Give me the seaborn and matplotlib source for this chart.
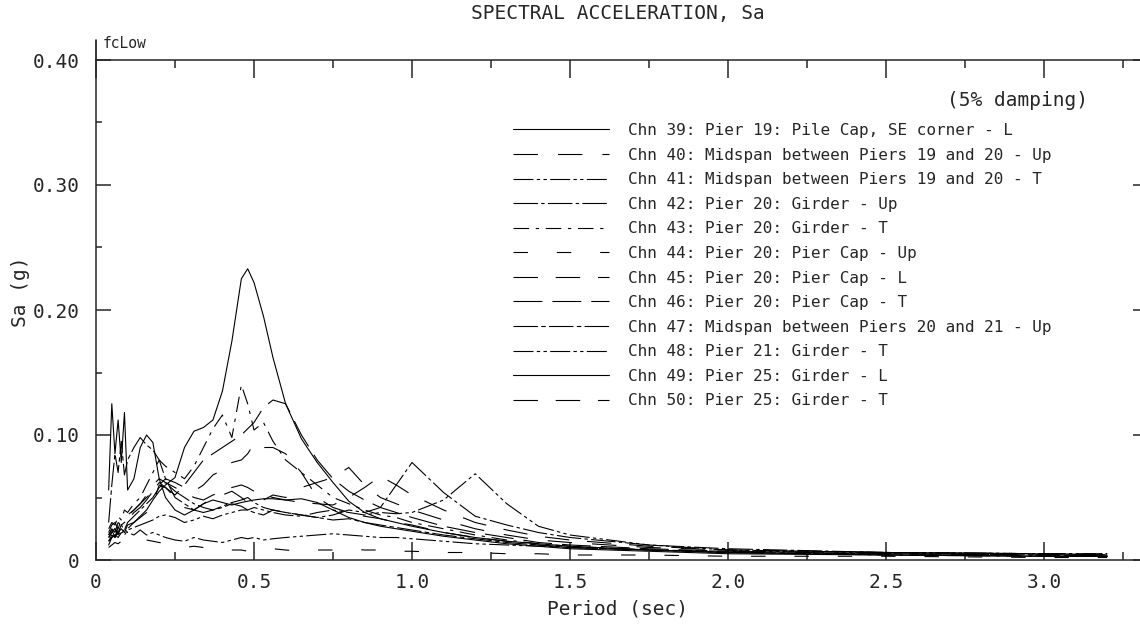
import numpy as np
import pandas as pd
import seaborn as sns
import matplotlib.pyplot as plt
from matplotlib.ticker import MultipleLocator

# Periodos (s) comuns a todos os canais
periodo = [0.04, 0.05, 0.06, 0.07, 0.08, 0.09, 0.10, 0.12, 0.14, 0.16, 0.18, 0.20, 0.22,
           0.25, 0.28, 0.31, 0.34, 0.37, 0.40, 0.43, 0.46, 0.48, 0.50, 0.53, 0.56, 0.60,
           0.65, 0.70, 0.75, 0.80, 0.85, 0.90, 0.95, 1.00, 1.10, 1.20, 1.30, 1.40, 1.50,
           1.75, 2.00, 2.50, 3.00, 3.20]

# Sa (g), um canal por lista
chn39 = [0.012, 0.018, 0.020, 0.022, 0.025, 0.022, 0.028, 0.030, 0.035, 0.040, 0.048, 0.055, 0.060,
         0.066, 0.090, 0.103, 0.106, 0.112, 0.135, 0.175, 0.225, 0.233, 0.222, 0.195, 0.162, 0.125,
         0.097, 0.078, 0.062, 0.047, 0.038, 0.033, 0.030, 0.027, 0.022, 0.018, 0.015, 0.013, 0.011,
         0.008, 0.006, 0.004, 0.003, 0.003]
chn40 = [0.020, 0.024, 0.018, 0.026, 0.022, 0.028, 0.025, 0.030, 0.034, 0.038, 0.045, 0.060, 0.058,
         0.050, 0.042, 0.040, 0.045, 0.050, 0.052, 0.055, 0.050, 0.046, 0.045, 0.048, 0.052, 0.050,
         0.058, 0.062, 0.066, 0.074, 0.060, 0.050, 0.045, 0.040, 0.032, 0.025, 0.020, 0.016, 0.014,
         0.010, 0.008, 0.006, 0.005, 0.004]
chn41 = [0.015, 0.020, 0.018, 0.022, 0.020, 0.025, 0.022, 0.020, 0.024, 0.020, 0.022, 0.020, 0.018,
         0.016, 0.015, 0.018, 0.016, 0.015, 0.014, 0.016, 0.018, 0.017, 0.018, 0.016, 0.017, 0.018,
         0.019, 0.020, 0.021, 0.020, 0.019, 0.018, 0.018, 0.017, 0.015, 0.013, 0.012, 0.011, 0.010,
         0.008, 0.007, 0.006, 0.005, 0.005]
chn42 = [0.018, 0.022, 0.025, 0.020, 0.028, 0.024, 0.030, 0.035, 0.040, 0.045, 0.050, 0.058, 0.062,
         0.055, 0.050, 0.045, 0.042, 0.040, 0.043, 0.046, 0.048, 0.050, 0.046, 0.042, 0.040, 0.038,
         0.036, 0.034, 0.036, 0.040, 0.038, 0.042, 0.060, 0.078, 0.054, 0.035, 0.028, 0.022, 0.018,
         0.012, 0.009, 0.006, 0.005, 0.004]
chn43 = [0.025, 0.030, 0.028, 0.035, 0.032, 0.040, 0.038, 0.045, 0.050, 0.060, 0.070, 0.080, 0.075,
         0.070, 0.065, 0.075, 0.090, 0.105, 0.116, 0.098, 0.140, 0.125, 0.104, 0.110, 0.095, 0.080,
         0.070, 0.060, 0.050, 0.045, 0.040, 0.036, 0.034, 0.030, 0.025, 0.020, 0.016, 0.013, 0.011,
         0.008, 0.006, 0.004, 0.003, 0.003]
chn44 = [0.010, 0.012, 0.014, 0.013, 0.015, 0.016, 0.018, 0.020, 0.018, 0.016, 0.015, 0.014, 0.013,
         0.012, 0.010, 0.011, 0.010, 0.008, 0.009, 0.008, 0.008, 0.007, 0.008, 0.008, 0.009, 0.008,
         0.007, 0.008, 0.008, 0.009, 0.008, 0.008, 0.007, 0.007, 0.006, 0.006, 0.005, 0.005, 0.004,
         0.004, 0.003, 0.003, 0.002, 0.002]
chn45 = [0.020, 0.025, 0.022, 0.030, 0.028, 0.032, 0.035, 0.040, 0.045, 0.050, 0.055, 0.060, 0.065,
         0.062, 0.058, 0.055, 0.060, 0.068, 0.072, 0.078, 0.080, 0.085, 0.093, 0.090, 0.090, 0.085,
         0.070, 0.050, 0.042, 0.038, 0.035, 0.033, 0.030, 0.028, 0.022, 0.018, 0.015, 0.012, 0.010,
         0.008, 0.006, 0.005, 0.004, 0.003]
chn46 = [0.018, 0.022, 0.025, 0.022, 0.028, 0.030, 0.032, 0.038, 0.042, 0.048, 0.055, 0.062, 0.058,
         0.052, 0.060, 0.070, 0.080, 0.085, 0.090, 0.095, 0.100, 0.105, 0.110, 0.122, 0.128, 0.125,
         0.100, 0.080, 0.065, 0.055, 0.048, 0.042, 0.038, 0.034, 0.027, 0.022, 0.018, 0.014, 0.012,
         0.009, 0.007, 0.005, 0.004, 0.003]
chn47 = [0.030, 0.060, 0.085, 0.070, 0.095, 0.068, 0.080, 0.090, 0.098, 0.092, 0.088, 0.080, 0.065,
         0.050, 0.045, 0.040, 0.038, 0.040, 0.042, 0.045, 0.043, 0.040, 0.038, 0.036, 0.040, 0.038,
         0.036, 0.034, 0.032, 0.033, 0.030, 0.028, 0.026, 0.024, 0.020, 0.017, 0.014, 0.012, 0.010,
         0.008, 0.006, 0.005, 0.004, 0.003]
chn48 = [0.015, 0.018, 0.020, 0.018, 0.022, 0.020, 0.024, 0.026, 0.028, 0.030, 0.032, 0.035, 0.036,
         0.034, 0.030, 0.032, 0.035, 0.033, 0.036, 0.038, 0.040, 0.040, 0.042, 0.040, 0.038, 0.036,
         0.035, 0.038, 0.040, 0.038, 0.036, 0.038, 0.037, 0.038, 0.048, 0.069, 0.045, 0.027, 0.020,
         0.012, 0.008, 0.006, 0.005, 0.005]
chn49 = [0.056, 0.125, 0.085, 0.112, 0.078, 0.118, 0.056, 0.065, 0.090, 0.100, 0.094, 0.065, 0.050,
         0.040, 0.036, 0.040, 0.045, 0.048, 0.046, 0.044, 0.046, 0.047, 0.048, 0.049, 0.049, 0.048,
         0.049, 0.046, 0.040, 0.034, 0.030, 0.027, 0.025, 0.023, 0.019, 0.016, 0.013, 0.011, 0.009,
         0.007, 0.005, 0.004, 0.003, 0.003]
chn50 = [0.022, 0.028, 0.030, 0.025, 0.032, 0.030, 0.036, 0.040, 0.045, 0.052, 0.060, 0.065, 0.062,
         0.058, 0.054, 0.050, 0.048, 0.052, 0.055, 0.058, 0.060, 0.058, 0.055, 0.052, 0.050, 0.048,
         0.046, 0.045, 0.044, 0.050, 0.058, 0.067, 0.060, 0.052, 0.040, 0.030, 0.024, 0.019, 0.016,
         0.011, 0.008, 0.006, 0.005, 0.004]

rotulos = ["Chn 39: Pier 19: Pile Cap, SE corner - L",
           "Chn 40: Midspan between Piers 19 and 20 - Up",
           "Chn 41: Midspan between Piers 19 and 20 - T",
           "Chn 42: Pier 20: Girder - Up",
           "Chn 43: Pier 20: Girder - T",
           "Chn 44: Pier 20: Pier Cap - Up",
           "Chn 45: Pier 20: Pier Cap - L",
           "Chn 46: Pier 20: Pier Cap - T",
           "Chn 47: Midspan between Piers 20 and 21 - Up",
           "Chn 48: Pier 21: Girder - T",
           "Chn 49: Pier 25: Girder - L",
           "Chn 50: Pier 25: Girder - T"]
series = [chn39, chn40, chn41, chn42, chn43, chn44, chn45, chn46, chn47, chn48, chn49, chn50]

# tracejados de cada canal (em unidades de largura de linha)
tracos = ["", (22, 18), (18, 3, 3, 3, 3, 3), (22, 3, 3, 3), (14, 6, 3, 6), (13, 26),
          (22, 16), (26, 9), (22, 3, 4, 3), (18, 3, 3, 3, 3, 3), "", (22, 16)]

df = pd.concat([pd.DataFrame({"periodo": periodo, "sa": s, "canal": r})
                for s, r in zip(series, rotulos)], ignore_index=True)

sns.set_style("ticks")
plt.rcParams["font.family"] = ["DejaVu Sans Mono"]

fig = plt.figure(figsize=(11.4, 6.27), dpi=100)
ax = fig.add_axes([96 / 1140, 1 - 560 / 627, (1148 - 96) / 1140, 500 / 627])

sns.lineplot(data=df, x="periodo", y="sa", style="canal", style_order=rotulos,
             dashes=dict(zip(rotulos, tracos)), color="black", linewidth=0.8,
             estimator=None, sort=False, ax=ax)

ax.set_xlim(0, (1148 - 96) / 316)
ax.set_ylim(0, 0.40)

ax.set_xticks([0, 0.5, 1.0, 1.5, 2.0, 2.5, 3.0])
ax.set_xticklabels(["0", "0.5", "1.0", "1.5", "2.0", "2.5", "3.0"])
ax.xaxis.set_minor_locator(MultipleLocator(0.25))
ax.set_yticks([0, 0.1, 0.2, 0.3, 0.4])
ax.set_yticklabels(["0", "0.10", "0.20", "0.30", "0.40"])
ax.yaxis.set_minor_locator(MultipleLocator(0.05))
ax.tick_params(axis="x", which="major", direction="in", length=13, width=1.1,
               top=True, bottom=True, labelsize=14, pad=9)
ax.tick_params(axis="x", which="minor", direction="in", length=6, width=1.1,
               top=True, bottom=True)
ax.tick_params(axis="y", which="major", direction="in", length=11, width=1.1,
               left=True, right=True, labelsize=14, pad=12)
ax.tick_params(axis="y", which="minor", direction="in", length=4.5, width=1.1,
               left=True, right=True)
for sp in ax.spines.values():
    sp.set_linewidth(1.1)
# haste do eixo esquerdo acima do quadro
ax.plot([0, 0], [1, 1.04], transform=ax.transAxes, clip_on=False, color="black", lw=1.1)

ax.set_xlabel("Period (sec)", fontsize=14)
ax.xaxis.set_label_coords(0.496, -(609 - 560) / 500)
ax.xaxis.label.set_va("center")
ax.set_ylabel("Sa (g)", fontsize=14)
ax.yaxis.set_label_coords(-(96 - 20) / 1052, (560 - 292) / 500)
ax.yaxis.label.set_va("center")

fig.text(618 / 1140, 1 - 14 / 627, "SPECTRAL ACCELERATION, Sa", ha="center", va="center", fontsize=14)
fig.text(103 / 1140, 1 - 44 / 627, "fcLow", ha="left", va="center", fontsize=10.5)
fig.text(1088 / 1140, 1 - 101 / 627, "(5% damping)", ha="right", va="center", fontsize=14)

ax.legend(loc="upper left", bbox_to_anchor=(513 / 1140, 1 - 123 / 627),
          bbox_transform=fig.transFigure, frameon=False, fontsize=11.5,
          handlelength=6.0, handletextpad=1.2, labelspacing=0.6,
          borderpad=0, borderaxespad=0, title=None)

fig.savefig("out.png", dpi=100)
